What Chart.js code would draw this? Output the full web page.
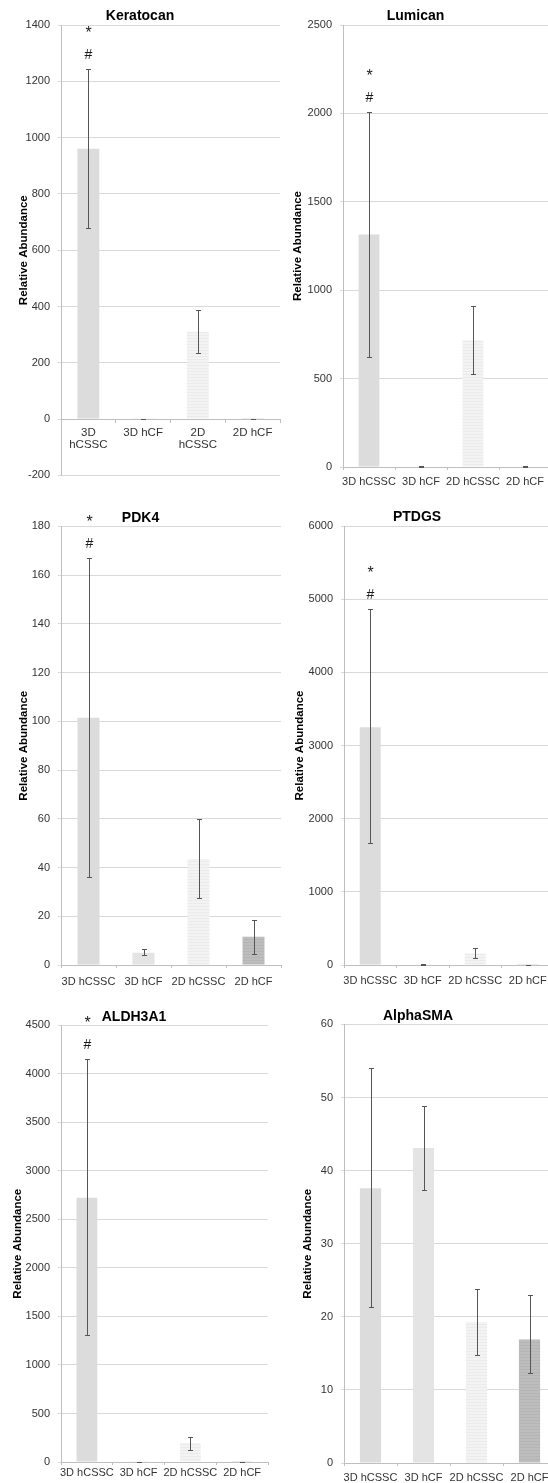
<!DOCTYPE html>
<html><head><meta charset="utf-8">
<script src="https://cdn.jsdelivr.net/npm/chart.js@4.4.0/dist/chart.umd.min.js"></script>
<style>
html,body{margin:0;padding:0;background:#fff;}
body{position:relative;width:548px;height:1483px;overflow:hidden;}
canvas{position:absolute;}
</style></head><body>
<canvas id="c1"></canvas><canvas id="c2"></canvas>
<canvas id="c3"></canvas><canvas id="c4"></canvas>
<canvas id="c5"></canvas><canvas id="c6"></canvas>
<script>
// ---- data ----
const groups = ['3D hCSSC', '3D hCF', '2D hCSSC', '2D hCF'];
const groupsWrapped = [['3D', 'hCSSC'], '3D hCF', ['2D', 'hCSSC'], '2D hCF'];
const axisTitle = 'Relative Abundance';

const keratocanValues = [960, 1, 310, 1];
const keratocanLow    = [680, 0.5, 234, 0.5];
const keratocanHigh   = [1245, 2, 389, 2];
const keratocanMarks  = [['*', '#'], [], [], []];
const keratocanTicks  = [-200, 1400, 200];

const lumicanValues = [1315, 3, 717, 3];
const lumicanLow    = [623, 1, 528, 1];
const lumicanHigh   = [2009, 5, 909, 5];
const lumicanMarks  = [['*', '#'], [], [], []];
const lumicanTicks  = [0, 2500, 500];

const pdk4Values = [101.5, 5.0, 43.5, 11.6];
const pdk4Low    = [36.2, 4.1, 27.3, 4.5];
const pdk4High   = [167, 6.4, 59.9, 18.4];
const pdk4Marks  = [['*', '#'], [], [], []];
const pdk4Ticks  = [0, 180, 20];

const ptdgsValues = [3250, 8, 160, 3];
const ptdgsLow    = [1663, 3, 91, 1];
const ptdgsHigh   = [4866, 14, 228, 5];
const ptdgsMarks  = [['*', '#'], [], [], []];
const ptdgsTicks  = [0, 6000, 1000];

const aldhValues = [2723, 2, 195, 2];
const aldhLow    = [1310, 1, 120, 1];
const aldhHigh   = [4150, 3, 257, 3];
const aldhMarks  = [['*', '#'], [], [], []];
const aldhTicks  = [0, 4500, 500];

const smaValues = [37.6, 43.1, 19.3, 16.9];
const smaLow    = [21.3, 37.4, 14.8, 12.3];
const smaHigh   = [54.0, 48.9, 23.8, 23.0];
const smaMarks  = [[], [], [], []];
const smaTicks  = [0, 60, 10];

// ---- drawing ----
const FONT = '"Liberation Sans", Arial, Helvetica, sans-serif';

const errorBarPlugin = {
  id: 'errorBars',
  afterDatasetsDraw(chart, args, opts) {
    if (!opts || !opts.low) return;
    const ctx = chart.ctx, y = chart.scales.y;
    const meta = chart.getDatasetMeta(0);
    ctx.save();
    ctx.strokeStyle = opts.color;
    ctx.lineWidth = 1;
    ctx.fillStyle = '#1a1a1a';
    ctx.textAlign = 'center';
    ctx.textBaseline = 'middle';
    meta.data.forEach((bar, i) => {
      const px = Math.round(bar.x) + 0.5;
      const yLo = Math.round(y.getPixelForValue(opts.low[i])) + 0.5;
      const yHi = Math.round(y.getPixelForValue(opts.high[i])) + 0.5;
      ctx.beginPath();
      ctx.moveTo(px, yLo); ctx.lineTo(px, yHi);
      ctx.moveTo(px - opts.cap, yLo); ctx.lineTo(px + opts.cap, yLo);
      ctx.moveTo(px - opts.cap, yHi); ctx.lineTo(px + opts.cap, yHi);
      ctx.stroke();
      const m = (opts.marks || [])[i] || [];
      m.forEach(t => {
        if (t === '*') {
          ctx.font = '16px ' + FONT;
          ctx.fillText(t, px, yHi - 36);
        } else {
          ctx.font = '14px ' + FONT;
          ctx.fillText(t, px, yHi - 14);
        }
      });
    });
    ctx.restore();
  }
};

function stripes(ctx, base, line) {
  const c = document.createElement('canvas');
  c.width = 4; c.height = 3;
  const g = c.getContext('2d');
  g.fillStyle = base; g.fillRect(0, 0, 4, 3);
  g.fillStyle = line; g.fillRect(0, 2, 4, 1);
  return ctx.createPattern(c, 'repeat');
}

function makeChart(id, s) {
  const cv = document.getElementById(id);
  cv.width = s.w; cv.height = s.h;
  cv.style.left = s.left + 'px'; cv.style.top = s.top + 'px';
  cv.style.width = s.w + 'px'; cv.style.height = s.h + 'px';
  const ctx = cv.getContext('2d');
  const fills = ['#dcdcdc', '#e4e4e4', stripes(ctx, '#f3f3f3', '#ebebeb'), stripes(ctx, '#bdbdbd', '#b5b5b5')];
  return new Chart(ctx, {
    type: 'bar',
    data: {
      labels: s.labels,
      datasets: [{ data: s.values, backgroundColor: fills, borderWidth: 0, categoryPercentage: 1, barPercentage: 0.4 }]
    },
    plugins: [errorBarPlugin],
    options: {
      responsive: false, animation: false, devicePixelRatio: 1,
      layout: { padding: { left: 0, right: s.padR, top: 0, bottom: s.padB } },
      plugins: {
        legend: { display: false },
        tooltip: { enabled: false },
        title: {
          display: true, text: s.title, color: '#000',
          font: { family: FONT, size: 14, weight: 'bold', lineHeight: 1.2 },
          padding: { top: s.titleTop, bottom: s.titleBottom }
        },
        errorBars: { low: s.low, high: s.high, marks: s.marks, cap: 2.5, color: '#555' }
      },
      scales: {
        x: {
          position: s.xPos,
          grid: { display: true, drawOnChartArea: false, drawTicks: true, tickLength: 3, color: '#bfbfbf', offset: true },
          border: { display: true, color: '#bfbfbf' },
          ticks: { autoSkip: false, maxRotation: 0, minRotation: 0, padding: s.xPad, color: '#333',
                   font: { family: FONT, size: s.xFont, lineHeight: s.xLine } },
          afterFit: sc => { sc.height = 22; }
        },
        y: {
          min: s.ticks[0], max: s.ticks[1],
          ticks: { stepSize: s.ticks[2], callback: v => String(v), padding: 8, color: '#333',
                   font: { family: FONT, size: 11 } },
          grid: { color: '#d9d9d9', tickLength: 3, drawTicks: true },
          border: { display: true, color: '#bfbfbf' },
          title: { display: true, text: axisTitle, color: '#000',
                   font: { family: FONT, size: 11.5, weight: 'bold', lineHeight: 1.2 },
                   padding: { top: s.yTitlePad, bottom: 0 } },
          afterFit: sc => { sc.width = s.yWidth; }
        }
      }
    }
  });
}

makeChart('c1', { title: 'Keratocan', labels: groupsWrapped, values: keratocanValues, low: keratocanLow, high: keratocanHigh,
  marks: keratocanMarks, ticks: keratocanTicks, left: 0, top: 0, w: 302, h: 490, yWidth: 61, padR: 22, padB: 8,
  titleTop: 8.2, titleBottom: 0, yTitlePad: 16.6, xPos: { y: 0 }, xPad: 5, xFont: 11.5, xLine: 1.02 });
makeChart('c2', { title: 'Lumican', labels: groups, values: lumicanValues, low: lumicanLow, high: lumicanHigh,
  marks: lumicanMarks, ticks: lumicanTicks, left: 280, top: 0, w: 280, h: 489, yWidth: 63, padR: 9, padB: 0,
  titleTop: 8.2, titleBottom: 0, yTitlePad: 10.6, xPos: 'bottom', xPad: 5.5, xFont: 11, xLine: 1.2 });
makeChart('c3', { title: 'PDK4', labels: groups, values: pdk4Values, low: pdk4Low, high: pdk4High,
  marks: pdk4Marks, ticks: pdk4Ticks, left: 0, top: 490, w: 302, h: 497, yWidth: 61, padR: 21, padB: 0,
  titleTop: 19.6, titleBottom: 0, yTitlePad: 16.6, xPos: 'bottom', xPad: 7.5, xFont: 11, xLine: 1.2 });
makeChart('c4', { title: 'PTDGS', labels: groups, values: ptdgsValues, low: ptdgsLow, high: ptdgsHigh,
  marks: ptdgsMarks, ticks: ptdgsTicks, left: 280, top: 490, w: 288, h: 497, yWidth: 64, padR: 14, padB: 0,
  titleTop: 18.6, titleBottom: 0.6, yTitlePad: 12.6, xPos: 'bottom', xPad: 6, xFont: 11, xLine: 1.2 });
makeChart('c5', { title: 'ALDH3A1', labels: groups, values: aldhValues, low: aldhLow, high: aldhHigh,
  marks: aldhMarks, ticks: aldhTicks, left: 0, top: 980, w: 276, h: 504, yWidth: 61, padR: 8, padB: 0,
  titleTop: 28.6, titleBottom: 0, yTitlePad: 10.6, xPos: 'bottom', xPad: 1, xFont: 11, xLine: 1.2 });
makeChart('c6', { title: 'AlphaSMA', labels: groups, values: smaValues, low: smaLow, high: smaHigh,
  marks: smaMarks, ticks: smaTicks, left: 280, top: 980, w: 294, h: 505, yWidth: 64, padR: 18, padB: 0,
  titleTop: 27.6, titleBottom: 0, yTitlePad: 20.6, xPos: 'bottom', xPad: 5.5, xFont: 11, xLine: 1.2 });
</script>
</body></html>
